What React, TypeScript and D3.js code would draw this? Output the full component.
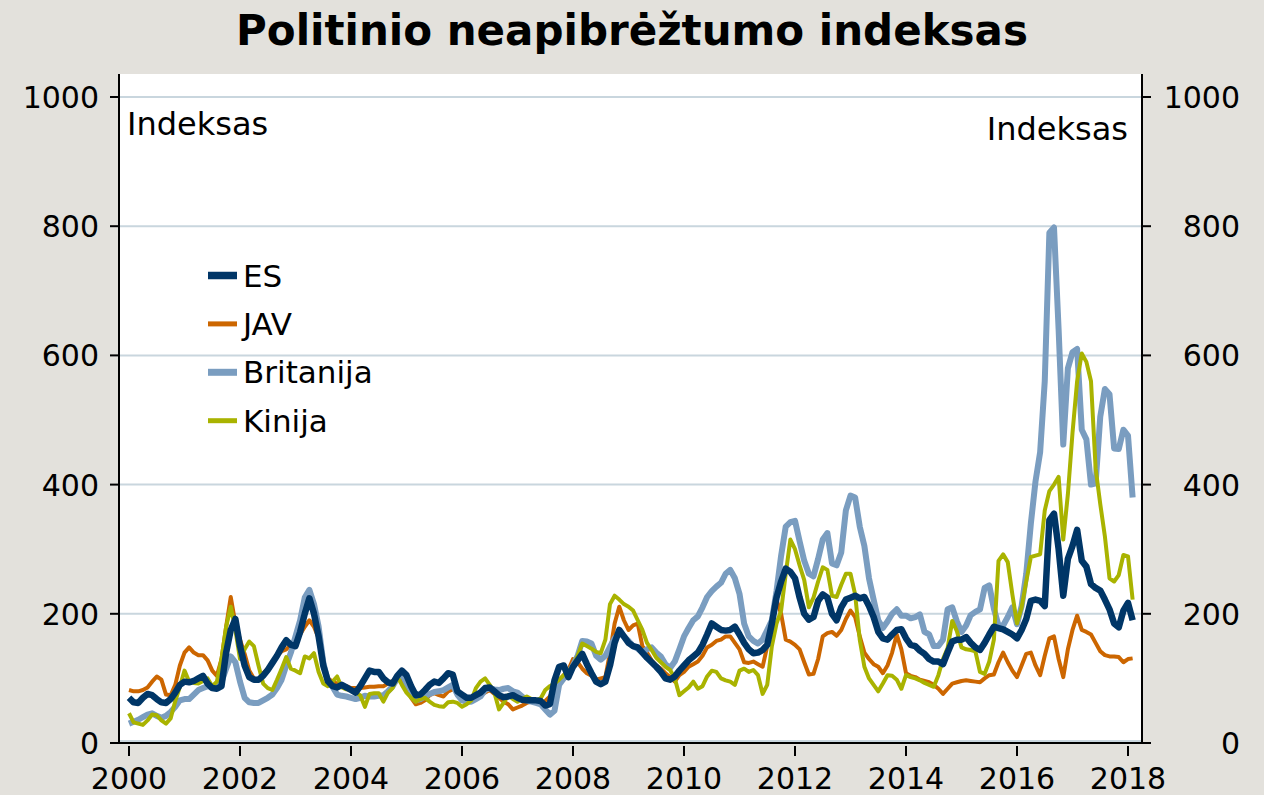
import React, { useEffect } from 'react';
import * as d3 from 'd3';

// monthly values, Jan 2000 onward
const esValues = [
  70, 63, 62, 70, 76, 74, 68, 63, 62, 68, 78, 90,
  95, 94, 96, 100, 104, 92, 85, 84, 88, 140, 175, 192,
  150, 120, 102, 98, 98, 104, 113, 124, 135, 148, 159, 152,
  150, 172, 200, 224, 200, 165, 120, 96, 88, 86, 90, 86,
  82, 78, 88, 100, 112, 110, 110, 100, 94, 92, 104, 112,
  105, 88, 74, 75, 82, 90, 95, 93, 100, 108, 106, 80,
  75, 70, 70, 74, 78, 85, 86, 80, 74, 71, 72, 74,
  70, 67, 66, 66, 66, 65, 58, 60, 97, 118, 120, 102,
  118, 128, 138, 122, 108, 95, 91, 95, 120, 155, 175, 165,
  155, 150, 148, 140, 132, 125, 118, 110, 100, 98, 103, 112,
  120, 128, 134, 140, 152, 168, 185, 180, 175, 174, 175, 180,
  168, 155, 145, 139, 140, 144, 152, 185, 225, 250, 270, 265,
  255, 225, 200, 191, 195, 220, 230, 225, 200, 190, 210, 222,
  225, 228, 224, 226, 212, 195, 172, 162, 160, 168, 175, 176,
  162, 152, 150, 143, 138, 130, 126, 126, 122, 140, 157, 160,
  160, 164, 155, 148, 144, 155, 168, 180, 178, 176, 172, 168,
  162, 175, 192, 220, 222, 220, 212, 345, 355, 300, 228, 285,
  305, 330, 282, 273, 246, 240, 236, 222, 207, 185, 179, 205,
  217, 190,
];

const javValues = [
  82, 80, 80, 82, 86, 95, 103, 98, 75, 74, 90, 120,
  140, 148, 140, 136, 136, 128, 112, 104, 130, 180, 226, 185,
  160, 138, 112, 100, 98, 108, 115, 125, 135, 142, 145, 152,
  160, 168, 180, 190, 180, 162, 118, 100, 95, 92, 90, 88,
  85, 85, 85, 86, 87, 87, 88, 88, 92, 96, 103, 100,
  88, 70, 60, 62, 66, 74, 77, 74, 72, 80, 83, 85,
  70, 68, 66, 70, 74, 78, 82, 76, 70, 64, 60, 52,
  55, 58, 62, 64, 63, 62, 65, 72, 85, 97, 105, 113,
  130, 125, 115, 108, 104, 98, 100, 102, 140, 185, 211, 190,
  175, 182, 185, 150, 140, 128, 120, 115, 108, 102, 95, 105,
  110, 118, 122, 126, 135, 148, 152, 158, 160, 165, 165, 155,
  145, 125, 124, 126, 122, 118, 150, 180, 222, 200, 160, 157,
  152, 145, 125, 106, 107, 130, 165, 170, 172, 166, 175, 192,
  205, 195, 165, 140, 130, 122, 118, 108, 120, 140, 168, 145,
  108, 104, 102, 98, 96, 94, 90, 84, 76, 84, 92, 94,
  96, 97, 96, 95, 94, 100, 105, 106, 125, 140, 125, 112,
  102, 120, 138, 140, 120, 105, 135, 162, 165, 130, 102, 145,
  175, 197, 175, 172, 168, 155, 142, 136, 134, 134, 133, 125,
  130, 131,
];

const ukValues = [
  30, 33, 36, 40, 44, 46, 42, 39, 42, 48, 56, 66,
  68, 68, 75, 82, 85, 88, 86, 88, 95, 115, 134, 125,
  95, 70, 63, 62, 62, 66, 70, 75, 85, 98, 120, 140,
  165, 190, 225, 237, 215, 180, 125, 95, 87, 75, 73, 72,
  70, 68, 70, 73, 72, 72, 73, 74, 80, 88, 100, 108,
  92, 75, 66, 68, 72, 76, 79, 80, 82, 86, 90, 75,
  66, 64, 64, 68, 72, 82, 85, 83, 82, 84, 85, 80,
  78, 72, 66, 64, 62, 60, 52, 44, 50, 90, 100, 108,
  120, 135, 158, 157, 154, 135, 129, 135, 149, 162, 170, 165,
  158, 150, 146, 140, 145, 148, 140, 134, 122, 116, 126, 145,
  165, 178, 190, 196, 210, 226, 235, 242, 248, 262, 268, 255,
  231, 185, 165, 158, 154, 160, 175, 190, 235, 290, 335, 342,
  344, 312, 282, 262, 258, 285, 315, 325, 278, 275, 295, 360,
  383, 380, 335, 305, 255, 222, 190, 178, 188, 200, 207, 197,
  197, 193, 195, 199, 172, 168, 150, 150, 160, 207, 210, 188,
  172, 182, 198, 203, 207, 240, 244, 208, 182, 182, 195, 210,
  184, 212, 262, 340, 405, 450, 560, 790, 798, 640, 462, 580,
  605, 610, 485, 470, 400, 402, 505, 548, 540, 456, 455, 485,
  476, 380,
];

const cnValues = [
  46, 32, 30, 28, 35, 44, 43, 35, 30, 38, 65, 87,
  112, 95, 93, 92, 96, 100, 88, 95, 130, 180, 211, 175,
  130, 145, 157, 150, 120, 92, 85, 82, 98, 115, 133, 115,
  112, 108, 134, 131, 139, 110, 92, 88, 95, 103, 86, 83,
  82, 78, 74, 56, 76, 77, 77, 64, 78, 85, 103, 90,
  78, 70, 64, 68, 70, 64, 59, 57, 56, 63, 64, 62,
  56, 60, 66, 85, 95, 100, 90, 78, 52, 62, 74, 68,
  64, 68, 72, 68, 66, 69, 82, 88, 92, 98, 105, 112,
  118, 135, 154, 150, 146, 141, 139, 160, 215, 228, 222, 215,
  211, 205, 190, 175, 155, 144, 132, 125, 118, 113, 100, 74,
  80, 86, 95, 84, 88, 103, 112, 110, 100, 97, 95, 90,
  112, 115, 110, 113, 105, 76, 90, 150, 185, 205, 262, 315,
  300, 275, 252, 210, 225, 250, 272, 268, 228, 226, 245, 262,
  262, 230, 160, 118, 100, 90, 80, 92, 105, 104, 98, 84,
  105, 102, 100, 97, 93, 90, 87, 105, 130, 147, 189, 173,
  148, 145, 144, 142, 110, 107, 126, 160, 282, 292, 280, 230,
  185, 210, 250, 288, 290, 292, 360, 390, 400, 412, 315, 385,
  480, 560, 603, 590, 560, 425, 370, 320, 255, 250, 260, 291,
  289, 222,
];

const seriesNames = ['ES', 'JAV', 'Britanija', 'Kinija'];
const yTicks = [0, 200, 400, 600, 800, 1000];
const xTicks = [2000, 2002, 2004, 2006, 2008, 2010, 2012, 2014, 2016, 2018];

const FONT = '"DejaVu Sans", Verdana, sans-serif';

export default function App() {
  useEffect(() => {
    document.body.style.margin = '0';
  }, []);

  const width = 1264;
  const height = 795;
  const left = 119, right = 1142, top = 74, bottom = 743;

  const x = d3.scaleLinear().domain([2000, 2018]).range([129, 1128]);
  const y = d3.scaleLinear().domain([0, 1000]).range([743, 97]);

  const series = [
    { name: 'ES', values: esValues, color: '#003667', width: 6.5 },
    { name: 'JAV', values: javValues, color: '#cc6600', width: 4 },
    { name: 'Britanija', values: ukValues, color: '#7a9dc0', width: 6 },
    { name: 'Kinija', values: cnValues, color: '#a9b300', width: 4 },
  ];

  const line = d3.line<number>()
    .x((_, i) => x(2000 + i / 12))
    .y((d) => y(d));

  // drawing order: JAV, Britanija, Kinija, ES on top
  const drawOrder = ['JAV', 'Britanija', 'Kinija', 'ES'];

  return (
    <svg width={width} height={height} style={{ display: 'block', fontFamily: FONT }}>
      <rect x={0} y={0} width={width} height={height} fill="#e3e1dc" />
      <rect x={left} y={top} width={right - left} height={bottom - top} fill="#fff" />

      {yTicks.map((t) => (
        <line key={t} x1={left} x2={right} y1={t === 0 ? y(t) - 2 : y(t)} y2={t === 0 ? y(t) - 2 : y(t)}
          stroke="#c9d6de" strokeWidth={2} />
      ))}

      <text x={632} y={45} textAnchor="middle" fontSize={42} fontWeight="bold" fill="#000">
        Politinio neapibrėžtumo indeksas
      </text>

      <text x={127} y={135} fontSize={32} fill="#000">Indeksas</text>
      <text x={1128} y={140} fontSize={32} textAnchor="end" fill="#000">Indeksas</text>

      {drawOrder.map((n) => {
        const s = series.find((d) => d.name === n)!;
        return (
          <path key={n} d={line(s.values) || ''} fill="none" stroke={s.color}
            strokeWidth={s.width} strokeLinejoin="round" />
        );
      })}

      {/* frame */}
      <line x1={left} x2={left} y1={top} y2={bottom + 1} stroke="#000" strokeWidth={2} />
      <line x1={right} x2={right} y1={top} y2={bottom + 1} stroke="#000" strokeWidth={2} />
      <line x1={left} x2={right + 1} y1={bottom} y2={bottom} stroke="#000" strokeWidth={2} />

      {yTicks.map((t) => (
        <g key={t}>
          <line x1={110} x2={left} y1={y(t)} y2={y(t)} stroke="#000" strokeWidth={2} />
          <line x1={right} x2={1151} y1={y(t)} y2={y(t)} stroke="#000" strokeWidth={2} />
          <text x={99} y={y(t) + 11} textAnchor="end" fontSize={30} fill="#000">{t}</text>
          <text x={1240} y={y(t) + 11} textAnchor="end" fontSize={30} fill="#000">{t}</text>
        </g>
      ))}

      {xTicks.map((t) => (
        <g key={t}>
          <line x1={x(t)} x2={x(t)} y1={746} y2={756} stroke="#000" strokeWidth={2} />
          <text x={x(t)} y={789} textAnchor="middle" fontSize={30} fill="#000">{t}</text>
        </g>
      ))}

      {seriesNames.map((n, i) => {
        const s = series.find((d) => d.name === n)!;
        const ly = 275.5 + i * 48.4;
        return (
          <g key={n}>
            <line x1={208} x2={237} y1={ly} y2={ly} stroke={s.color} strokeWidth={s.width + 1} />
            <text x={243} y={ly + 11} fontSize={31} fill="#000">{n}</text>
          </g>
        );
      })}
    </svg>
  );
}
